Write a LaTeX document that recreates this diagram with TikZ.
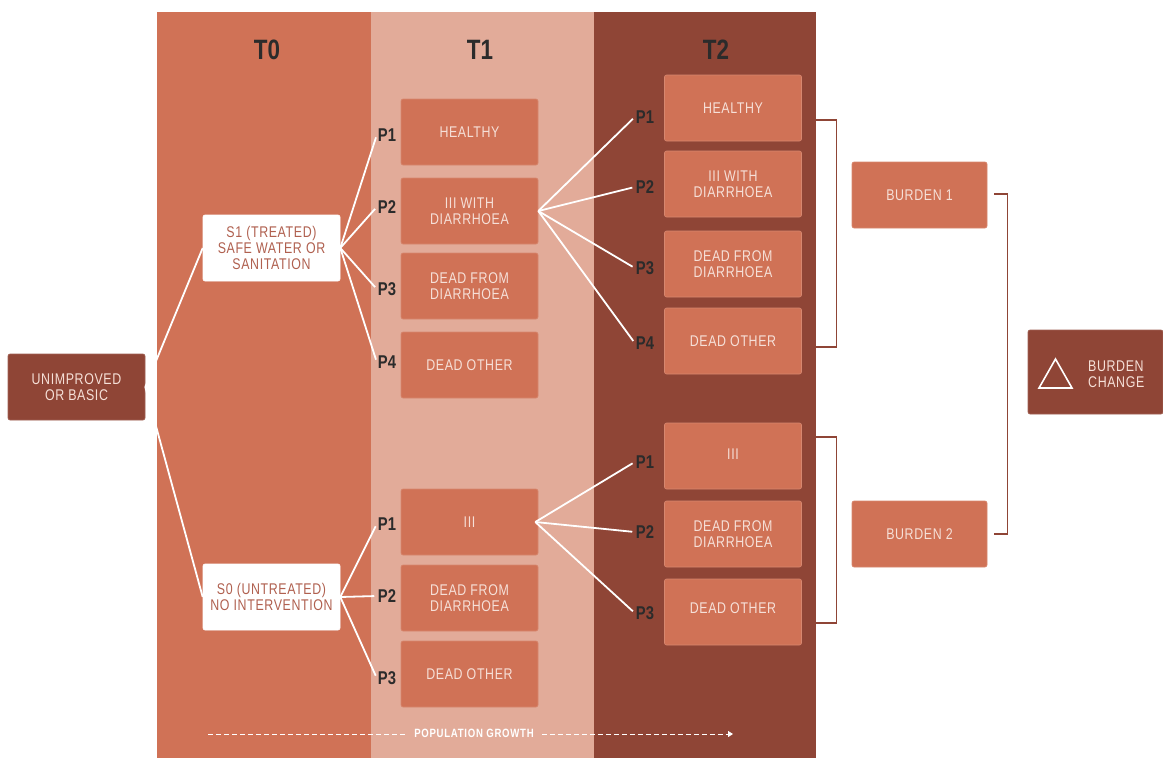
\documentclass[tikz,border=0pt]{standalone}
\usepackage{fontspec}
\setmainfont{Liberation Sans}[FakeStretch=0.8]
\usetikzlibrary{arrows.meta}
\definecolor{midc}{HTML}{D07256}
\definecolor{lightc}{HTML}{E2AB99}
\definecolor{darkc}{HTML}{8F4536}
\definecolor{txtc}{HTML}{F6E0D8}
\definecolor{headc}{HTML}{2B2B2B}
\definecolor{stxt}{HTML}{B0604F}
\begin{document}
\begin{tikzpicture}[x=1pt,y=-1pt,
  box/.style={fill=midc, draw=midc!85!white, line width=0.6pt, rounded corners=2pt,
    minimum width=137pt, minimum height=66pt, align=center, text=txtc,
    font=\fontsize{15.5}{16.3}\selectfont\addfontfeatures{LetterSpace=4}, inner sep=2pt},
  darkbox/.style={box, fill=darkc, draw=darkc!85!white},
  whitebox/.style={box, fill=white, draw=white, text=stxt},
  plabel/.style={font=\bfseries\fontsize{18.5}{18.5}\selectfont, text=headc, inner sep=1pt},
  head/.style={font=\bfseries\fontsize{28}{28}\selectfont, text=headc},
  link/.style={draw=white, line width=1.8pt, shorten >=2.5pt},
  bracket/.style={draw=darkc, line width=1.3pt},
]
\useasboundingbox (0,0) rectangle (1163,758);
% bands
\fill[midc] (157,12) rectangle (371,758);
\fill[lightc] (371,12) rectangle (594,758);
\fill[darkc] (594,12) rectangle (816,758);
\node[head] (h0) at (267,50) {T0};
\node[head] (h1) at (480,50) {T1};
\node[head] (h2) at (716,50) {T2};

% start
\node[darkbox] (U) at (76.5,387) {UNIMPROVED\\OR BASIC};
\node[whitebox] (S1) at (271.5,248) {S1 (TREATED)\\SAFE WATER OR\\SANITATION};
\node[whitebox] (S0) at (271.5,597) {S0 (UNTREATED)\\NO INTERVENTION};

% T1 boxes
\node[box] (A1) at (469.5,132) {HEALTHY};
\node[box] (A2) at (469.5,211) {III WITH\\DIARRHOEA};
\node[box] (A3) at (469.5,286) {DEAD FROM\\DIARRHOEA};
\node[box] (A4) at (469.5,365) {\raisebox{-6pt}{DEAD OTHER}};
\node[box] (B1) at (469.5,522) {III};
\node[box] (B2) at (469.5,598) {DEAD FROM\\DIARRHOEA};
\node[box] (B3) at (469.5,674) {DEAD OTHER};

% T1 labels
\node[plabel] (pa1) at (387,135) {P1};
\node[plabel] (pa2) at (387,207) {P2};
\node[plabel] (pa3) at (387,289) {P3};
\node[plabel] (pa4) at (387,362) {P4};
\node[plabel] (pb1) at (387,524) {P1};
\node[plabel] (pb2) at (387,596) {P2};
\node[plabel] (pb3) at (387,678) {P3};

% T2 boxes
\node[box] (C1) at (733,108) {HEALTHY};
\node[box] (C2) at (733,184) {III WITH\\DIARRHOEA};
\node[box] (C3) at (733,264) {DEAD FROM\\DIARRHOEA};
\node[box] (C4) at (733,341) {\raisebox{-4pt}{DEAD OTHER}};
\node[box] (D1) at (733,456) {\raisebox{3pt}{III}};
\node[box] (D2) at (733,534) {DEAD FROM\\DIARRHOEA};
\node[box] (D3) at (733,612) {\raisebox{7pt}{DEAD OTHER}};

% T2 labels
\node[plabel] (pc1) at (645,117) {P1};
\node[plabel] (pc2) at (645,187) {P2};
\node[plabel] (pc3) at (645,268) {P3};
\node[plabel] (pc4) at (645,343) {P4};
\node[plabel] (pd1) at (645,462) {P1};
\node[plabel] (pd2) at (645,532) {P2};
\node[plabel] (pd3) at (645,613) {P3};

% burdens
\node[box, minimum width=135pt] (BU1) at (919.5,195) {BURDEN 1};
\node[box, minimum width=135pt] (BU2) at (919.5,534) {BURDEN 2};
\node[darkbox, minimum width=135pt, minimum height=84pt] (BC) at (1095.5,372) {};
\node[anchor=west, align=left, text=txtc, inner sep=0pt,
  font=\fontsize{15.5}{16}\selectfont\addfontfeatures{LetterSpace=4}] (BCt) at (1088,374) {BURDEN\\CHANGE};
\draw[white, line width=1.6pt, line join=miter] (1039,388) -- (1072,388) -- (1055.5,359) -- cycle;

% links
\draw[link, shorten >=0pt] (U.east) -- (S1.west);
\draw[link, shorten >=0pt] (U.east) -- (S0.west);
\foreach \p in {pa1,pa2,pa3,pa4} \draw[link] (S1.east) -- (\p.west);
\foreach \p in {pb1,pb2,pb3} \draw[link] (S0.east) -- (\p.west);
\foreach \p in {pc1,pc2,pc3,pc4} \draw[link] (A2.east) -- (\p.west);
\foreach \p in {pd1,pd2,pd3} \draw[link] ([xshift=-3pt]B1.east) -- (\p.west);

% brackets
\draw[bracket] ([yshift=-12pt]C1.east) -| ([xshift=35pt,yshift=-6pt]C4.east) -- ([yshift=-6pt]C4.east);
\draw[bracket] ([yshift=19pt]D1.east) -| ([xshift=35pt,yshift=-11pt]D3.east) -- ([yshift=-11pt]D3.east);
\draw[bracket] ([xshift=7pt,yshift=1pt]BU1.east) -| ([xshift=20pt]BU2.east) -- ([xshift=7pt]BU2.east);

% population growth
\coordinate (pgs) at (208,734);
\coordinate (pge) at (733,734);
\node[text=white, font=\bfseries\fontsize{12}{12}\selectfont\addfontfeatures{LetterSpace=6}, inner xsep=8pt] (pg) at (474,733) {POPULATION GROWTH};
\draw[white, line width=0.9pt, dash pattern=on 5pt off 3pt] (pgs) -- (pgs -| pg.west);
\draw[white, line width=0.9pt, dash pattern=on 5pt off 3pt, -{Triangle[length=5pt,width=6pt]}] (pgs -| pg.east) -- (pge);
\end{tikzpicture}
\end{document}
